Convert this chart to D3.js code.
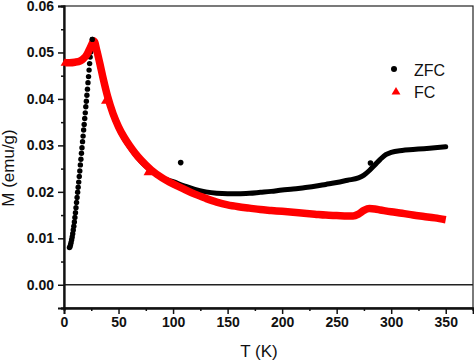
<!DOCTYPE html>
<html>
<head>
<meta charset="utf-8">
<script src="https://cdn.jsdelivr.net/npm/d3@7"></script>
<style>
  body { margin: 0; background: #fff; }
  svg { display: block; }
  .tick text { font: bold 14px "Liberation Sans", Arial, sans-serif; fill: #111; }
  .title { font: 17px "Liberation Sans", Arial, sans-serif; fill: #111; }
  .legend text { font: 16px "Liberation Sans", Arial, sans-serif; fill: #111; }
</style>
</head>
<body>
<div id="chart"></div>
<script>
// ZFC: temperature (K) and magnetisation (emu/g)
var zfcT = [5, 5.5, 6, 6.5, 7, 7.5, 8, 8.5, 9, 9.5, 10, 10.5, 11, 11.5, 12, 12.5, 13, 13.5, 14, 14.5,
            15, 15.5, 16, 16.5, 17, 17.5, 18, 18.5, 19, 19.5, 20, 20.5, 21, 21.5, 22, 22.5, 23, 23.5,
            24, 24.5, 25, 25.5, 26,
            28, 30, 33, 36, 40, 45, 50, 55, 60, 65, 70, 75, 80, 90,
            100, 110, 120, 130, 140, 150, 160, 170, 180, 190, 200, 210, 220, 230, 240, 250,
            260, 270, 275, 280, 285, 290, 295, 300, 310, 320, 330, 340, 350];
var zfcM = [0.0080, 0.0082, 0.0086, 0.0091, 0.0097, 0.0103, 0.0110, 0.0118, 0.0126, 0.0135, 0.0145,
            0.0155, 0.0166, 0.0177, 0.0188, 0.0199, 0.0210, 0.0221, 0.0233, 0.0245, 0.0258, 0.0270,
            0.0283, 0.0295, 0.0308, 0.0320, 0.0333, 0.0345, 0.0358, 0.0370, 0.0383, 0.0395, 0.0408,
            0.0421, 0.0435, 0.0448, 0.0462, 0.0476, 0.0490, 0.0501, 0.0512, 0.0520, 0.0528,
            0.0512, 0.0500, 0.0470, 0.0440, 0.0402, 0.0365, 0.0337, 0.0315, 0.0297, 0.0281, 0.0267,
            0.0255, 0.0245, 0.0230,
            0.0222, 0.0213, 0.0205, 0.0200, 0.0197, 0.0196, 0.0196, 0.0197, 0.0199, 0.0201, 0.0204,
            0.0206, 0.0209, 0.0212, 0.0216, 0.0220, 0.0225, 0.0230, 0.0236, 0.0246, 0.0258, 0.0270,
            0.0280, 0.0285, 0.0289, 0.0291, 0.0293, 0.0295, 0.0297];
// stray ZFC points off the curve
var zfcOutT = [107, 281];
var zfcOutM = [0.0263, 0.0262];

// FC
var fcT = [1, 5, 10, 15, 18, 20, 22, 24, 26, 27, 28, 30, 33, 36, 40, 45, 50, 55, 60, 65, 70, 75,
           80, 90, 100, 110, 120, 130, 140, 150, 160, 170, 180, 190, 200, 210, 220, 230, 240, 250,
           260, 265, 270, 275, 280, 285, 290, 300, 310, 320, 330, 340, 350];
var fcM = [0.0478, 0.0478, 0.0479, 0.0482, 0.0487, 0.0492, 0.0500, 0.0510, 0.0520, 0.0525, 0.0523,
           0.0505, 0.0475, 0.0443, 0.0405, 0.0368, 0.0340, 0.0318, 0.0300, 0.0284, 0.0270, 0.0258,
           0.0247, 0.0230, 0.0217, 0.0206, 0.0195, 0.0186, 0.0178, 0.0172, 0.0168, 0.0165, 0.0162,
           0.0160, 0.0158, 0.0156, 0.0154, 0.0152, 0.0150, 0.0149, 0.0148, 0.0148, 0.0152, 0.0160,
           0.0164, 0.0163, 0.0161, 0.0157, 0.0154, 0.0150, 0.0147, 0.0144, 0.0140];
// FC points that stick out of the band as single triangles
var fcMarkT = [1, 38, 77];
var fcMarkM = [0.0477, 0.0395, 0.0241];

var xTicks = [0, 50, 100, 150, 200, 250, 300, 350];
var yTicks = [0, 0.01, 0.02, 0.03, 0.04, 0.05, 0.06];

var W = 474, H = 361;
var plotL = 64, plotR = 473, plotT = 6, plotB = 308;

var svg = d3.select("#chart").append("svg").attr("width", W).attr("height", H);

var x = d3.scaleLinear().domain([0, 375]).range([plotL, plotR]);
var y = d3.scaleLinear().domain([-0.005, 0.06]).range([plotB, plotT]);

// frame
svg.append("rect")
  .attr("x", plotL).attr("y", plotT)
  .attr("width", plotR - plotL).attr("height", plotB - plotT)
  .attr("fill", "none").attr("stroke", "#222").attr("stroke-width", 1.2);

// zero line
svg.append("line")
  .attr("x1", plotL).attr("x2", plotR)
  .attr("y1", y(0)).attr("y2", y(0))
  .attr("stroke", "#222").attr("stroke-width", 1.5);

// axes
svg.append("g").attr("transform", "translate(0," + plotB + ")")
  .call(d3.axisBottom(x).tickValues(xTicks).tickSize(6).tickPadding(3).tickFormat(d3.format("d")));
svg.append("g").attr("transform", "translate(0," + plotB + ")")
  .call(d3.axisBottom(x).tickValues(xTicks.map(function(d){ return d + 25; })).tickSize(3).tickFormat(""));

svg.append("g").attr("transform", "translate(" + plotL + ",0)")
  .call(d3.axisLeft(y).tickValues(yTicks).tickSize(6).tickPadding(4).tickFormat(d3.format(".2f")));
svg.append("g").attr("transform", "translate(" + plotL + ",0)")
  .call(d3.axisLeft(y).tickValues(yTicks.map(function(d){ return d - 0.005; })).tickSize(3).tickFormat(""));

svg.selectAll(".domain").attr("stroke", "#111").attr("stroke-width", 1.8);
svg.selectAll(".tick line").attr("stroke", "#111").attr("stroke-width", 1.5);

// titles
svg.append("text").attr("class", "title")
  .attr("x", 259).attr("y", 357).attr("text-anchor", "middle").text("T (K)");
svg.append("text").attr("class", "title")
  .attr("transform", "translate(14,168) rotate(-90)")
  .attr("text-anchor", "middle").text("M (emu/g)");

var zfc = zfcT.map(function(t, i){ return [t, zfcM[i]]; });
var fc = fcT.map(function(t, i){ return [t, fcM[i]]; });

var line = d3.line()
  .x(function(d){ return x(d[0]); })
  .y(function(d){ return y(d[1]); })
  .curve(d3.curveMonotoneX);

// ZFC curve (above 26 K it is a dense line of points)
svg.append("path")
  .datum(zfc.filter(function(d){ return d[0] >= 26; }))
  .attr("d", line)
  .attr("fill", "none").attr("stroke", "#000").attr("stroke-width", 5)
  .attr("stroke-linecap", "round");

svg.append("g").selectAll("circle")
  .data(zfc.filter(function(d){ return d[0] <= 26; }))
  .join("circle")
  .attr("cx", function(d){ return x(d[0]); })
  .attr("cy", function(d){ return y(d[1]); })
  .attr("r", 2.7).attr("fill", "#000");

// FC curve
svg.append("path")
  .datum(fc)
  .attr("d", line)
  .attr("fill", "none").attr("stroke", "#f00").attr("stroke-width", 7.5)
  .attr("stroke-linejoin", "round");

var tri = d3.symbol().type(d3.symbolTriangle).size(34);
svg.append("g").selectAll("path")
  .data(fcMarkT.map(function(t, i){ return [t, fcMarkM[i]]; }))
  .join("path")
  .attr("transform", function(d){ return "translate(" + x(d[0]) + "," + y(d[1]) + ")"; })
  .attr("d", tri).attr("fill", "#f00");

// stray ZFC points
svg.append("g").selectAll("circle")
  .data(zfcOutT.map(function(t, i){ return [t, zfcOutM[i]]; }))
  .join("circle")
  .attr("cx", function(d){ return x(d[0]); })
  .attr("cy", function(d){ return y(d[1]); })
  .attr("r", 2.8).attr("fill", "#000");

// ZFC peak point sits on top of the FC band
svg.append("circle")
  .attr("cx", x(26)).attr("cy", y(0.0528)).attr("r", 2.6).attr("fill", "#000");

// legend
var lg = svg.append("g").attr("class", "legend");
lg.append("circle").attr("cx", 394).attr("cy", 69).attr("r", 3).attr("fill", "#000");
lg.append("text").attr("x", 414).attr("y", 76).text("ZFC");
lg.append("path").attr("transform", "translate(396,92)").attr("d", tri).attr("fill", "#f00");
lg.append("text").attr("x", 414).attr("y", 98).text("FC");
</script>
</body>
</html>
